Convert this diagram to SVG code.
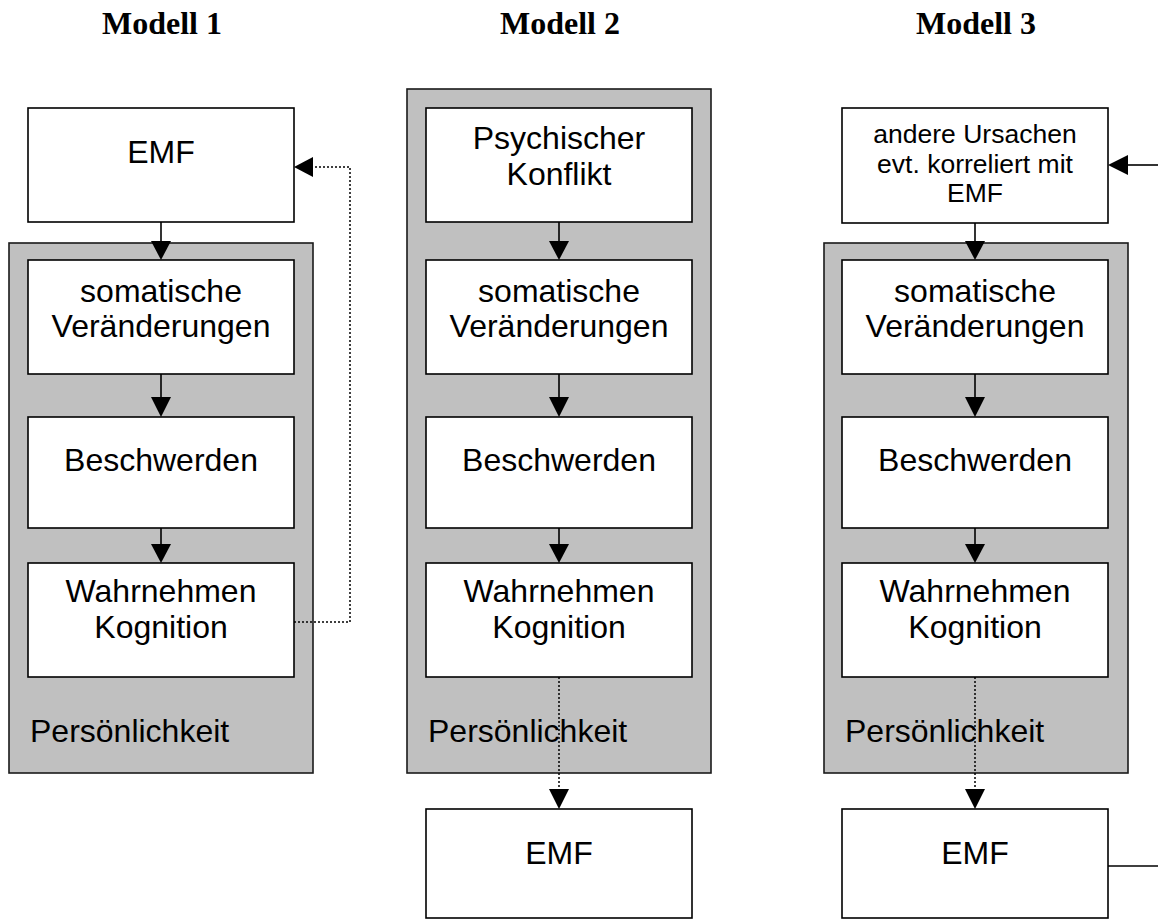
<svg xmlns="http://www.w3.org/2000/svg" width="1158" height="923" viewBox="0 0 1158 923">
<style>
.title{font-family:"Liberation Serif","Times New Roman",serif;font-weight:bold;font-size:32px;text-anchor:middle;fill:#000}
.t{font-family:"Liberation Sans",Arial,sans-serif;font-size:32px;text-anchor:middle;fill:#000}
.ts{font-family:"Liberation Sans",Arial,sans-serif;font-size:26.5px;text-anchor:middle;fill:#000}
.tl{font-family:"Liberation Sans",Arial,sans-serif;font-size:32px;fill:#000}
.panel{fill:#c0c0c0;stroke:#1a1a1a;stroke-width:1.6}
.box{fill:#fff;stroke:#000;stroke-width:1.6}
.ln{stroke:#000;stroke-width:1.6;fill:none}
.dot{stroke:#000;stroke-width:1.5;fill:none;stroke-dasharray:2 2}
.head{fill:#000}
</style>
<rect width="1158" height="923" fill="#fff"/>
<g id="titles">
<text class="title" x="162" y="34">Modell 1</text>
<text class="title" x="560" y="34">Modell 2</text>
<text class="title" x="976" y="34">Modell 3</text>
</g>
<!-- Model 1 -->
<g id="m1-panel">
<rect class="panel" x="9" y="243" width="304" height="530"/>
<text class="tl" x="30" y="742">Persönlichkeit</text>
</g>
<g id="m1-emf">
<rect class="box" x="28" y="108" width="266" height="114"/>
<text class="t" x="161" y="163">EMF</text>
</g>
<g id="m1-somatisch">
<rect class="box" x="28" y="260" width="266" height="114"/>
<text class="t" x="161" y="302">somatische</text>
<text class="t" x="161" y="337">Veränderungen</text>
</g>
<g id="m1-beschwerden">
<rect class="box" x="28" y="417" width="266" height="111"/>
<text class="t" x="161" y="471">Beschwerden</text>
</g>
<g id="m1-wahrnehmen">
<rect class="box" x="28" y="563" width="266" height="114"/>
<text class="t" x="161" y="602">Wahrnehmen</text>
<text class="t" x="161" y="638">Kognition</text>
</g>
<!-- Model 2 -->
<g id="m2-panel">
<rect class="panel" x="407" y="89" width="304" height="684"/>
<text class="tl" x="428" y="742">Persönlichkeit</text>
</g>
<g id="m2-konflikt">
<rect class="box" x="426" y="108" width="266" height="114"/>
<text class="t" x="559" y="149">Psychischer</text>
<text class="t" x="559" y="185">Konflikt</text>
</g>
<g id="m2-somatisch">
<rect class="box" x="426" y="260" width="266" height="114"/>
<text class="t" x="559" y="302">somatische</text>
<text class="t" x="559" y="337">Veränderungen</text>
</g>
<g id="m2-beschwerden">
<rect class="box" x="426" y="417" width="266" height="111"/>
<text class="t" x="559" y="471">Beschwerden</text>
</g>
<g id="m2-wahrnehmen">
<rect class="box" x="426" y="563" width="266" height="114"/>
<text class="t" x="559" y="602">Wahrnehmen</text>
<text class="t" x="559" y="638">Kognition</text>
</g>
<g id="m2-emf">
<rect class="box" x="426" y="809" width="266" height="109"/>
<text class="t" x="559" y="864">EMF</text>
</g>
<!-- Model 3 -->
<g id="m3-panel">
<rect class="panel" x="824" y="243" width="304" height="530"/>
<text class="tl" x="845" y="742">Persönlichkeit</text>
</g>
<g id="m3-ursachen">
<rect class="box" x="842" y="108" width="266" height="115"/>
<text class="ts" x="975" y="143">andere Ursachen</text>
<text class="ts" x="975" y="173">evt. korreliert mit</text>
<text class="ts" x="975" y="202">EMF</text>
</g>
<g id="m3-somatisch">
<rect class="box" x="842" y="260" width="266" height="114"/>
<text class="t" x="975" y="302">somatische</text>
<text class="t" x="975" y="337">Veränderungen</text>
</g>
<g id="m3-beschwerden">
<rect class="box" x="842" y="417" width="266" height="111"/>
<text class="t" x="975" y="471">Beschwerden</text>
</g>
<g id="m3-wahrnehmen">
<rect class="box" x="842" y="563" width="266" height="114"/>
<text class="t" x="975" y="602">Wahrnehmen</text>
<text class="t" x="975" y="638">Kognition</text>
</g>
<g id="m3-emf">
<rect class="box" x="842" y="809" width="266" height="109"/>
<text class="t" x="975" y="864">EMF</text>
</g>
<g id="connectors">
<!-- Model 1 -->
<line class="ln" x1="161" y1="222" x2="161" y2="244"/>
<polygon class="head" points="151,241 171,241 161,260"/>
<line class="ln" x1="161" y1="374" x2="161" y2="399"/>
<polygon class="head" points="151,397 171,397 161,417"/>
<line class="ln" x1="161" y1="528" x2="161" y2="546"/>
<polygon class="head" points="151,544 171,544 161,563"/>
<polyline class="dot" points="294,622 350,622 350,167 312,167"/>
<polygon class="head" points="313,157 313,177 294,167"/>
<!-- Model 2 -->
<line class="ln" x1="559" y1="222" x2="559" y2="244"/>
<polygon class="head" points="549,241 569,241 559,260"/>
<line class="ln" x1="559" y1="374" x2="559" y2="399"/>
<polygon class="head" points="549,397 569,397 559,417"/>
<line class="ln" x1="559" y1="528" x2="559" y2="546"/>
<polygon class="head" points="549,544 569,544 559,563"/>
<line class="dot" x1="559" y1="677" x2="559" y2="792"/>
<polygon class="head" points="549,789 569,789 559,809"/>
<!-- Model 3 -->
<line class="ln" x1="975" y1="223" x2="975" y2="244"/>
<polygon class="head" points="965,241 985,241 975,260"/>
<line class="ln" x1="975" y1="374" x2="975" y2="399"/>
<polygon class="head" points="965,397 985,397 975,417"/>
<line class="ln" x1="975" y1="528" x2="975" y2="546"/>
<polygon class="head" points="965,544 985,544 975,563"/>
<line class="dot" x1="975" y1="677" x2="975" y2="792"/>
<polygon class="head" points="965,789 985,789 975,809"/>
<line class="ln" x1="1158" y1="165" x2="1126" y2="165"/>
<polygon class="head" points="1128,155 1128,175 1108,165"/>
<line class="ln" x1="1108" y1="866" x2="1158" y2="866"/>
</g>
</svg>
